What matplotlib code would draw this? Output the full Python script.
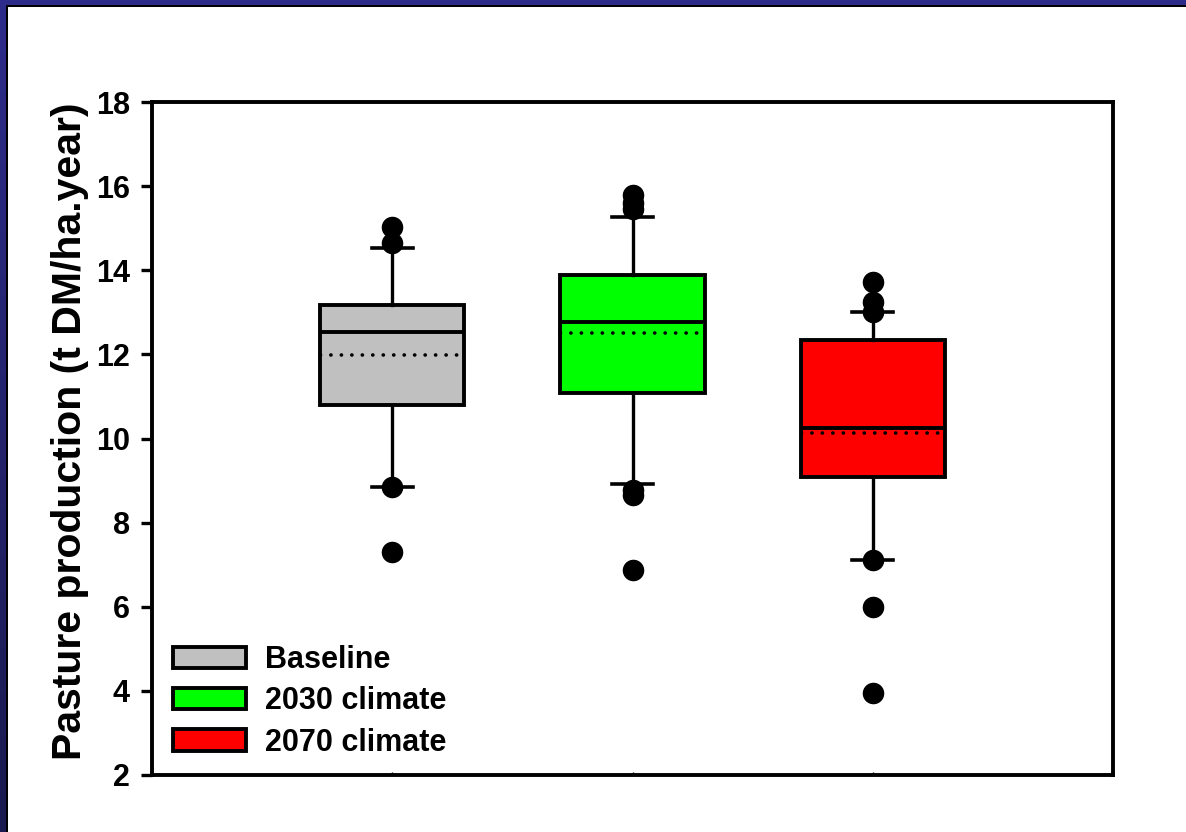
import numpy as np
import matplotlib
matplotlib.use("Agg")
import matplotlib.pyplot as plt
from matplotlib.patches import Patch, Rectangle
from matplotlib.colors import LinearSegmentedColormap

# ---- data ----
categories = ["Baseline", "2030 climate", "2070 climate"]
colors = ["#c0c0c0", "#00ff00", "#ff0000"]
q1 = [10.80, 11.09, 9.09]
q3 = [13.17, 13.89, 12.33]
medians = [12.54, 12.78, 10.24]
means = [11.98, 12.50, 10.14]
whisker_low = [8.85, 8.92, 7.11]
whisker_high = [14.52, 15.27, 13.00]
fliers = [
    [15.04, 14.64, 8.84, 7.31],
    [15.78, 15.60, 15.45, 8.78, 8.66, 6.87],
    [13.73, 13.25, 13.00, 7.11, 6.00, 3.94],
]
yticks = [2, 4, 6, 8, 10, 12, 14, 16, 18]
ylabel = "Pasture production (t DM/ha.year)"

plt.rcParams['font.family'] = ['Liberation Sans', 'DejaVu Sans']

W, H = 1186, 832
fig = plt.figure(figsize=(W / 100, H / 100), dpi=100)

# frame border (top and left)
fig.patches.append(Rectangle((0, 1 - 7 / H), 1, 7 / H, transform=fig.transFigure,
                             facecolor="#000000", edgecolor="none", zorder=-2))
fig.patches.append(Rectangle((0, 1 - 5 / H), 1, 5 / H, transform=fig.transFigure,
                             facecolor="#2e2c8a", edgecolor="none", zorder=-1))
fig.patches.append(Rectangle((0, 0), 8 / W, 1, transform=fig.transFigure,
                             facecolor="#000000", edgecolor="none", zorder=-2))
gax = fig.add_axes([0, 0, 6 / W, 1 - 5 / H], zorder=5)
gax.axis("off")
cmap = LinearSegmentedColormap.from_list("b", ["#1a1a50", "#2e2c8a"])
gax.imshow(np.linspace(1, 0, 256).reshape(-1, 1), aspect="auto", cmap=cmap,
           extent=[0, 1, 0, 1])

ax = fig.add_axes([152 / W, (H - 775) / H, (1113 - 152) / W, (775 - 102) / H])

stats = []
for i in range(len(categories)):
    stats.append(dict(med=medians[i], q1=q1[i], q3=q3[i], whislo=whisker_low[i],
                      whishi=whisker_high[i], mean=means[i], fliers=fliers[i],
                      label=categories[i]))

lw = 2.8
bp = ax.bxp(stats, positions=[1, 2, 3], widths=0.6, capwidths=0.17,
            patch_artist=True, showmeans=True, meanline=True,
            boxprops=dict(linewidth=lw, edgecolor="black"),
            medianprops=dict(color="black", linewidth=lw),
            meanprops=dict(color="black", linewidth=2.6, linestyle=(-3.0, (0.05, 2.85))),
            whiskerprops=dict(color="black", linewidth=2.4),
            capprops=dict(color="black", linewidth=2.6),
            flierprops=dict(marker="o", markerfacecolor="black",
                            markeredgecolor="black", markersize=14.5))
for patch, c in zip(bp["boxes"], colors):
    patch.set_facecolor(c)
for m in bp["means"]:
    m.set_dash_capstyle("round")

ax.set_xlim(0, 4)
ax.set_ylim(2, 18)
ax.set_yticks(yticks)
ax.set_yticklabels([str(t) for t in yticks], fontsize=22, fontweight="bold")
ax.set_xticks([1, 2, 3])
ax.set_xticklabels([])
ax.tick_params(axis="x", direction="in", length=2, width=1)
ax.tick_params(axis="y", direction="out", length=8, width=2.4, pad=8)
for s in ax.spines.values():
    s.set_linewidth(2.8)
ax.set_ylabel(ylabel, fontsize=29.5, fontweight="bold")
ax.yaxis.set_label_coords((89 - 152) / 961, (775 - 431) / 673)

handles = [Patch(facecolor=c, edgecolor="black", linewidth=lw) for c in colors]
ax.legend(handles, categories, loc="upper left",
          bbox_to_anchor=((173 - 152) / 961, (775 - 645) / 673),
          frameon=False, borderpad=0, borderaxespad=0,
          prop=dict(size=22, weight="bold"),
          handlelength=2.4, handleheight=0.7, handletextpad=0.6,
          labelspacing=0.37)

fig.savefig("out.png", dpi=100)
